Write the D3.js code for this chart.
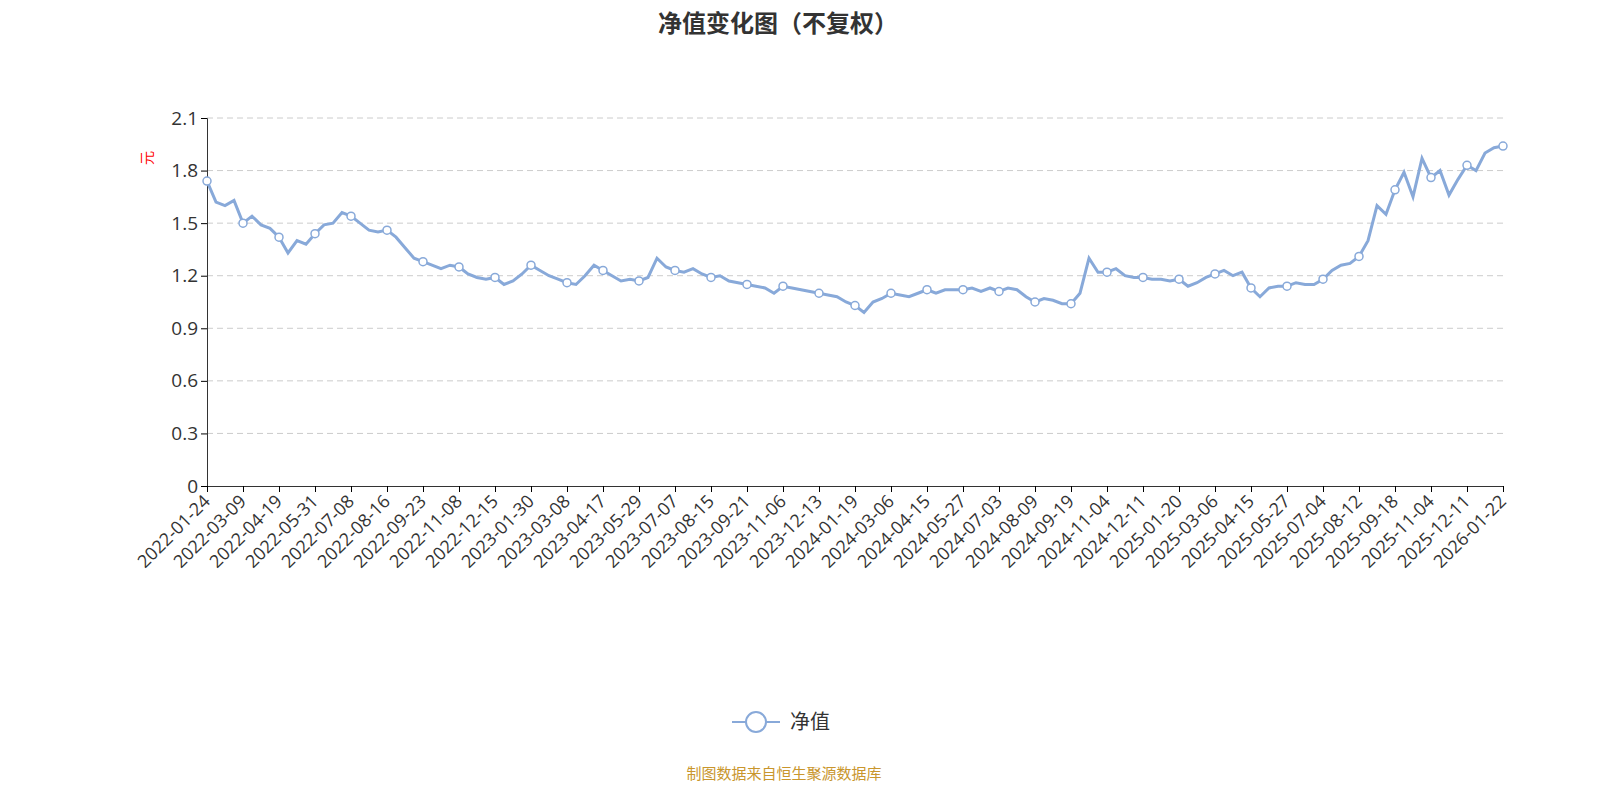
<!DOCTYPE html>
<html><head><meta charset="utf-8">
<script src="https://cdn.jsdelivr.net/npm/d3@7"></script>
<style>html,body{margin:0;overflow:hidden;background:#fff;font-family:"Noto Sans CJK SC","Open Sans",sans-serif;}svg{display:block;}</style>
</head><body><svg id="vis" width="1600" height="800"></svg>
<script>
var tickLabels = ["2022-01-24","2022-03-09","2022-04-19","2022-05-31","2022-07-08","2022-08-16","2022-09-23","2022-11-08","2022-12-15","2023-01-30","2023-03-08","2023-04-17","2023-05-29","2023-07-07","2023-08-15","2023-09-21","2023-11-06","2023-12-13","2024-01-19","2024-03-06","2024-04-15","2024-05-27","2024-07-03","2024-08-09","2024-09-19","2024-11-04","2024-12-11","2025-01-20","2025-03-06","2025-04-15","2025-05-27","2025-07-04","2025-08-12","2025-09-18","2025-11-04","2025-12-11","2026-01-22"];
var navValues = [
1.74,1.62,1.60,1.63, 1.50,1.54,1.49,1.47, 1.42,1.33,1.40,1.38, 1.44,1.49,1.50,1.56,
1.54,1.50,1.46,1.45, 1.46,1.42,1.36,1.30, 1.28,1.26,1.24,1.26, 1.25,1.21,1.19,1.18,
1.19,1.15,1.17,1.21, 1.26,1.23,1.20,1.18, 1.16,1.15,1.20,1.26, 1.23,1.20,1.17,1.18,
1.17,1.19,1.30,1.25, 1.23,1.22,1.24,1.21, 1.19,1.20,1.17,1.16, 1.15,1.14,1.13,1.10,
1.14,1.13,1.12,1.11, 1.10,1.09,1.08,1.05, 1.03,0.99,1.05,1.07, 1.10,1.09,1.08,1.10,
1.12,1.10,1.12,1.12, 1.12,1.13,1.11,1.13, 1.11,1.13,1.12,1.08, 1.05,1.07,1.06,1.04,
1.04,1.10,1.30,1.22, 1.22,1.24,1.20,1.19, 1.19,1.18,1.18,1.17, 1.18,1.14,1.16,1.19,
1.21,1.23,1.20,1.22, 1.13,1.08,1.13,1.14, 1.14,1.16,1.15,1.15, 1.18,1.23,1.26,1.27,
1.31,1.40,1.60,1.55, 1.69,1.79,1.65,1.87, 1.76,1.80,1.66,1.75, 1.83,1.80,1.90,1.93,
1.94];
var yTicks = [0,0.3,0.6,0.9,1.2,1.5,1.8,2.1];
var perTick = 4;

var svg = d3.select("#vis");
var mLeft = 207, mRight = 1503, mTop = 118, mBottom = 486;
var x = d3.scaleLinear().domain([0, navValues.length - 1]).range([mLeft, mRight]);
var y = d3.scaleLinear().domain([0, 2.1]).range([mBottom, mTop]);

svg.append("text").attr("x", 778).attr("y", 32).attr("text-anchor", "middle")
  .attr("font-size", 24).attr("font-weight", "bold").attr("fill", "#333").text("净值变化图（不复权）");

svg.selectAll(".grid").data(yTicks.slice(1)).enter().append("line")
  .attr("x1", mLeft).attr("x2", mRight).attr("y1", y).attr("y2", y)
  .attr("stroke", "#ccc").attr("stroke-dasharray", "6,4");

var ya = svg.append("g").attr("transform", "translate(" + mLeft + ",0)")
  .call(d3.axisLeft(y).tickValues(yTicks).tickFormat(d3.format("")).tickSize(6));
ya.select(".domain").attr("stroke", "#333");
ya.selectAll("text").attr("font-size", 19).attr("fill", "#333").attr("font-family", "Open Sans");

var tickIdx = tickLabels.map(function(d, i) { return Math.min(i * perTick, navValues.length - 1); });
var xa = svg.append("g").attr("transform", "translate(0," + mBottom + ")")
  .call(d3.axisBottom(x).tickValues(tickIdx).tickFormat(function(d, i) { return tickLabels[i]; }).tickSize(6));
xa.select(".domain").attr("stroke", "#333");
xa.selectAll("text").attr("font-size", 18).attr("fill", "#333").attr("font-family", "Open Sans")
  .attr("text-anchor", "end").attr("transform", "rotate(-45)").attr("dx", "-0.5em").attr("dy", "0.3em");

svg.append("text").attr("transform", "translate(152,158) rotate(-90)").attr("text-anchor", "middle")
  .attr("font-size", 14).attr("fill", "red").text("元");

var line = d3.line().x(function(d, i) { return x(i); }).y(function(d) { return y(d); });
svg.append("path").datum(navValues).attr("d", line).attr("fill", "none")
  .attr("stroke", "#88a9d9").attr("stroke-width", 3);

svg.selectAll(".pt").data(tickIdx).enter().append("circle")
  .attr("cx", function(d) { return x(d); }).attr("cy", function(d) { return y(navValues[d]); })
  .attr("r", 4).attr("fill", "#fff").attr("stroke", "#88a9d9").attr("stroke-width", 1.5);

var lg = svg.append("g").attr("transform", "translate(756,722)");
lg.append("line").attr("x1", -24).attr("x2", 24).attr("stroke", "#88a9d9").attr("stroke-width", 2);
lg.append("circle").attr("r", 10).attr("fill", "#fff").attr("stroke", "#88a9d9").attr("stroke-width", 2);
lg.append("text").attr("x", 34).attr("dy", "0.35em").attr("font-size", 20).attr("fill", "#333").text("净值");

svg.append("text").attr("x", 784).attr("y", 779).attr("text-anchor", "middle")
  .attr("font-size", 15).attr("fill", "#c9962d").text("制图数据来自恒生聚源数据库");
</script></body></html>
